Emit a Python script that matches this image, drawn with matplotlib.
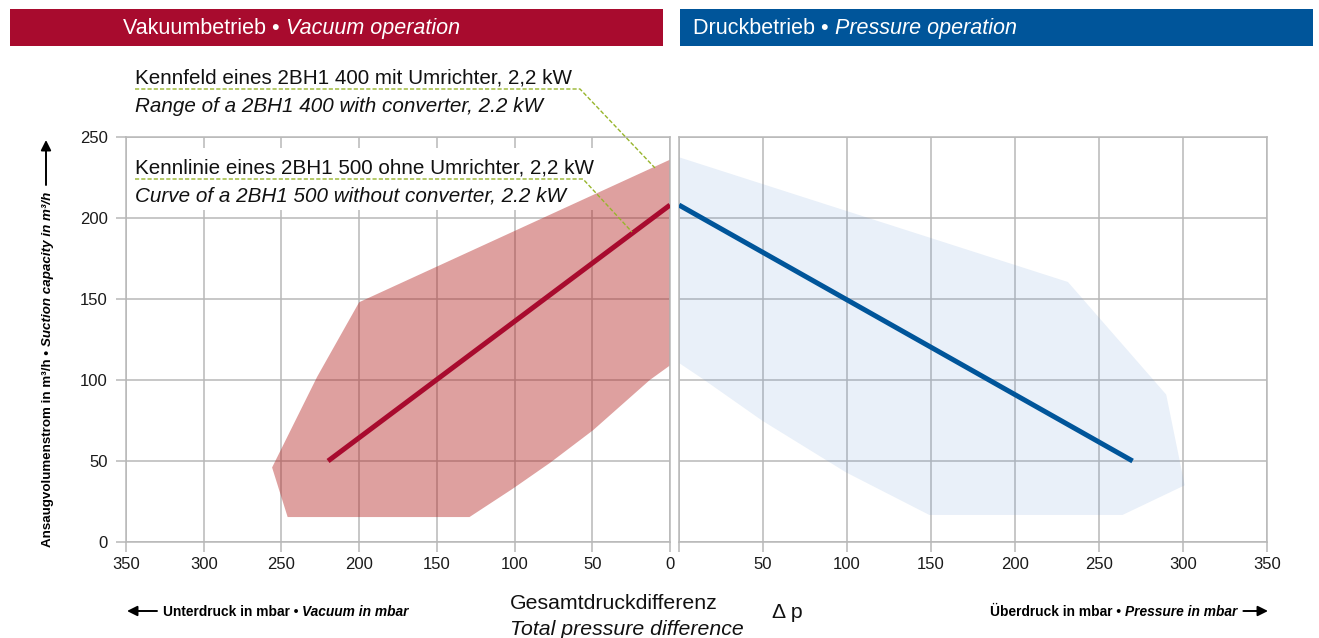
import matplotlib.pyplot as plt
from matplotlib.patches import Rectangle, FancyArrowPatch
from matplotlib.lines import Line2D

# --- data ---
# vacuum side (x = vacuum in mbar, axis runs 350 -> 0)
vac_range_x = [0, 200, 227, 256, 246, 129, 101, 77, 49.5, 13, 0]
vac_range_y = [236, 148, 102, 46, 15.4, 15.4, 33, 49, 69, 100, 109]
vac_curve_x = [220, 0]
vac_curve_y = [50, 208]

# pressure side (x = overpressure in mbar)
pres_range_x = [0, 231.5, 290, 301, 264, 149, 99.4, 49.4, 13.7, 0]
pres_range_y = [237.5, 160.5, 91, 35, 16.7, 16.7, 43, 75, 101, 110.5]
pres_curve_x = [0, 270]
pres_curve_y = [208, 50]

vac_xticks = [350, 300, 250, 200, 150, 100, 50, 0]
pres_xticks = [0, 50, 100, 150, 200, 250, 300, 350]
yticks = [0, 50, 100, 150, 200, 250]

RED = '#a80b2e'
BLUE = '#00559a'
GREEN = '#97b52c'
GRID = '#b8b8b8'

FONT = ['Liberation Sans', 'DejaVu Sans']
NARROW = ['Liberation Sans Narrow', 'Liberation Sans', 'DejaVu Sans']

W, H = 1319, 638
fig = plt.figure(figsize=(W / 100, H / 100), dpi=100)
renderer = fig.canvas.get_renderer()


def fx(x):
    return x / W


def fy(y):
    return 1 - y / H


def text_len(s, **kw):
    # length of a string incl. trailing spaces, in pixels
    t1 = fig.text(0, 0, s + '|', **kw)
    t2 = fig.text(0, 0, '|', **kw)
    w = t1.get_window_extent(renderer).width - t2.get_window_extent(renderer).width
    t1.remove()
    t2.remove()
    return w


def put_parts(x, y, parts, vertical=False, **kw):
    # writes text pieces one after another, pixel coords from top-left
    pos = y if vertical else x
    for s, extra in parts:
        style = dict(kw, **extra)
        if vertical:
            fig.text(fx(x), fy(pos), s, rotation=90, rotation_mode='anchor',
                     ha='left', va='baseline', **style)
            pos -= text_len(s, **style)
        else:
            fig.text(fx(pos), fy(y), s, ha='left', va='baseline', **style)
            pos += text_len(s, **style)
    return pos


def arrow(x0, y0, x1, y1):
    fig.add_artist(FancyArrowPatch((fx(x0), fy(y0)), (fx(x1), fy(y1)),
                                   transform=fig.transFigure, arrowstyle='-|>',
                                   mutation_scale=15, lw=1.4, color='black',
                                   shrinkA=0, shrinkB=0))


def style_axes(ax):
    ax.set_ylim(0, 250)
    ax.set_yticks(yticks)
    ax.grid(True, color=GRID, lw=1.1)
    ax.set_axisbelow(True)
    for sp in ax.spines.values():
        sp.set_color(GRID)
        sp.set_linewidth(1.1)
    ax.tick_params(length=7, width=1.1, color=GRID, labelsize=12,
                   labelcolor='#1a1a1a', pad=4)
    for lab in ax.get_xticklabels() + ax.get_yticklabels():
        lab.set_family(FONT)


# --- vacuum panel ---
axL = fig.add_axes([fx(126), fy(542), (670 - 126) / W, (542 - 137) / H])
# white backing of the curve label: hides the grid, the range shows through
axL.add_patch(Rectangle((fx(130), fy(210)), (595 - 130) / W, (210 - 148) / H,
                        transform=fig.transFigure, color='white', lw=0, zorder=0.8))
axL.fill(vac_range_x, vac_range_y, color='#b62c2a', alpha=0.45, lw=0, zorder=1)
axL.plot(vac_curve_x, vac_curve_y, color=RED, lw=3.6, solid_capstyle='butt', zorder=3)
axL.set_xlim(350, 0)
axL.set_xticks(vac_xticks)
style_axes(axL)
axL.tick_params(axis='y', pad=6)

# --- pressure panel ---
axR = fig.add_axes([fx(679), fy(542), (1267 - 679) / W, (542 - 137) / H])
axR.fill(pres_range_x, pres_range_y, color='#6c9bd7', alpha=0.15, lw=0, zorder=1)
axR.plot(pres_curve_x, pres_curve_y, color=BLUE, lw=3.6, solid_capstyle='butt', zorder=3)
axR.set_xlim(0, 350)
axR.set_xticks(pres_xticks)
axR.set_xticklabels([''] + [str(v) for v in pres_xticks[1:]])
style_axes(axR)
axR.tick_params(axis='y', left=False, labelleft=False)

# --- header banners ---
fig.add_artist(Rectangle((fx(10), fy(46)), (663 - 10) / W, 37 / H,
                         transform=fig.transFigure, color=RED, lw=0))
fig.add_artist(Rectangle((fx(680), fy(46)), (1313 - 680) / W, 37 / H,
                         transform=fig.transFigure, color=BLUE, lw=0))
put_parts(123, 34, [('Vakuumbetrieb \u2022 ', {}), ('Vacuum operation', {'style': 'italic'})],
          fontsize=15.5, color='white', family=FONT)
put_parts(693, 34, [('Druckbetrieb \u2022 ', {}), ('Pressure operation', {'style': 'italic'})],
          fontsize=15.5, color='white', family=FONT)

# --- annotations ---
ann = dict(fontsize=14.9, family=FONT, color='#111111', va='baseline')
fig.text(fx(135), fy(84), 'Kennfeld eines 2BH1 400 mit Umrichter, 2,2 kW', **ann)
fig.text(fx(135), fy(112), 'Range of a 2BH1 400 with converter, 2.2 kW', style='italic', **ann)
fig.text(fx(135), fy(173), 'Kennlinie eines 2BH1 500 ohne Umrichter, 2,2 kW', **ann)
fig.text(fx(135), fy(201), 'Curve of a 2BH1 500 without converter, 2.2 kW', style='italic', **ann)

for xs, ys in [([135, 580, 655], [89, 89, 168]), ([135, 583, 632], [179, 179, 232])]:
    fig.add_artist(Line2D([fx(v) for v in xs], [fy(v) for v in ys],
                          transform=fig.transFigure, color=GREEN, lw=1.0,
                          ls=(0, (3, 1.5)), zorder=4))

# --- axis captions ---
cap = dict(fontsize=9.6, weight='bold', family=NARROW, color='black')
end = put_parts(51, 547, [('Ansaugvolumenstrom in m\u00b3/h \u2022 ', {}),
                          ('Suction capacity in m\u00b3/h', {'style': 'italic'})],
                vertical=True, **cap)
arrow(46, end - 7, 46, 140)

cap['fontsize'] = 9.9
put_parts(163, 616, [('Unterdruck in mbar \u2022 ', {}), ('Vacuum in mbar', {'style': 'italic'})], **cap)
arrow(157, 611, 127, 611)

end = put_parts(990, 616, [('\u00dcberdruck in mbar \u2022 ', {}), ('Pressure in mbar', {'style': 'italic'})],
                **cap)
arrow(end + 6, 611, 1268, 611)

big = dict(fontsize=15.3, family=FONT, color='#111111', va='baseline')
fig.text(fx(510), fy(609), 'Gesamtdruckdifferenz', **big)
fig.text(fx(510), fy(635), 'Total pressure difference', style='italic', **big)
fig.text(fx(772), fy(618), '\u0394 p', **big)

fig.savefig('out.png', dpi=100)
